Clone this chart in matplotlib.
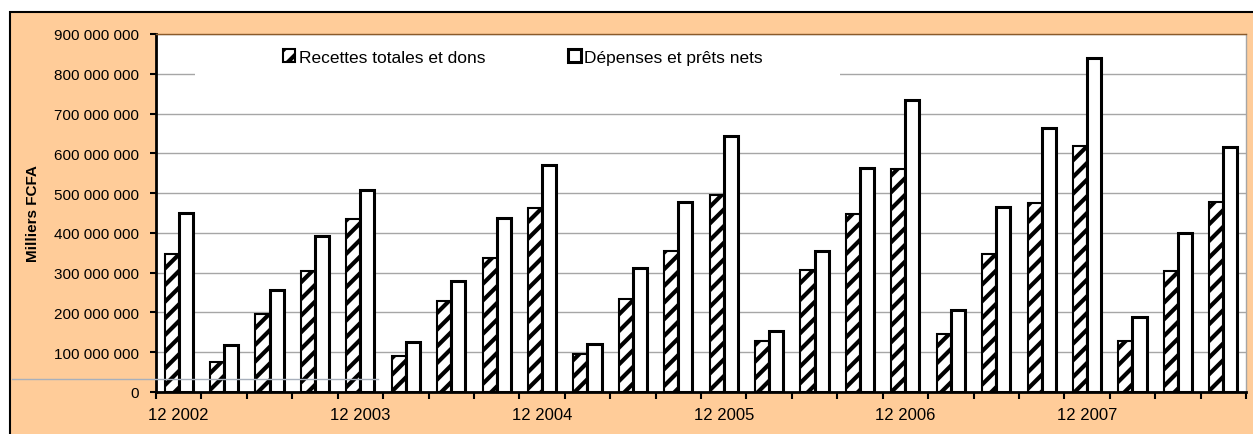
import numpy as np
import matplotlib
matplotlib.use("Agg")
import matplotlib.pyplot as plt
from matplotlib.patches import Rectangle, Patch
from matplotlib.lines import Line2D

# values in millions (Milliers FCFA / 1e6)
periods = ["12 2002", "03 2003", "06 2003", "09 2003",
           "12 2003", "03 2004", "06 2004", "09 2004",
           "12 2004", "03 2005", "06 2005", "09 2005",
           "12 2005", "03 2006", "06 2006", "09 2006",
           "12 2006", "03 2007", "06 2007", "09 2007",
           "12 2007", "03 2008", "06 2008", "09 2008"]
recettes = [347, 76, 196, 303, 435, 90, 228, 338, 462, 95, 235, 354,
            496, 128, 306, 447, 561, 147, 346, 475, 618, 127, 305, 478]
depenses = [450, 118, 257, 391, 508, 126, 278, 437, 571, 121, 311, 478,
            644, 153, 355, 563, 734, 207, 464, 664, 839, 189, 400, 615]
yticks = [0, 100, 200, 300, 400, 500, 600, 700, 800, 900]

plt.rcParams['font.family'] = ['Liberation Sans', 'DejaVu Sans']
plt.rcParams['hatch.linewidth'] = 3.0
plt.rcParams['hatch.color'] = 'black'

W, H = 1253, 435
fig = plt.figure(figsize=(W/100, H/100), dpi=100)
fig.patch.set_facecolor('white')

# peach frame of the chart
fig.patches.append(Rectangle((10/W, -0.05), 1.1, (H-13)/H + 0.05, transform=fig.transFigure,
                             facecolor='#FFCC99', edgecolor='black', lw=1.5, zorder=-5))

ax = fig.add_axes([156/W, (H-393)/H, 1090/W, 358/H])
ax.set_zorder(2)
ax.set_facecolor('white')

x = np.arange(len(periods))
bw = 0.31
ax.bar(x - 0.155, np.array(recettes)*1e6, bw, facecolor='white', edgecolor='black',
       hatch='//', lw=1.5, zorder=3)
ax.bar(x + 0.155, np.array(depenses)*1e6, bw, facecolor='white', edgecolor='black',
       lw=2.2, zorder=4)

ax.set_xlim(-0.5, len(periods) - 0.5)
ax.set_ylim(0, 900e6)
ax.set_yticks([v*1e6 for v in yticks])
ax.set_yticklabels(["{:,}".format(v*1000000).replace(",", " ") for v in yticks], fontsize=11)
ax.yaxis.grid(True, color='#a6a6a6', lw=1, zorder=1)
ax.set_axisbelow(True)

ax.set_xticks(np.arange(-0.5, len(periods), 1))
ax.set_xticklabels([])
lab_pos = [i for i, p in enumerate(periods) if p.startswith("12")]
ax.set_xticks(lab_pos, [periods[i] for i in lab_pos], minor=True, fontsize=12)
ax.tick_params(axis='x', which='major', direction='out', length=5, width=1.5)
ax.tick_params(axis='x', which='minor', length=0, pad=11)
ax.tick_params(axis='y', direction='out', length=4, width=1.5, pad=8)

ax.spines['left'].set_linewidth(2)
ax.spines['bottom'].set_linewidth(2)
ax.spines['top'].set_color('#8B5A2B')
ax.spines['top'].set_linewidth(1)
ax.spines['right'].set_color('#a6a6a6')
ax.spines['right'].set_linewidth(1)

ax.set_ylabel("Milliers FCFA", fontsize=11, fontweight='bold')
ax.yaxis.set_label_coords(-0.106, 0.5)

# white legend area hiding the grid
ax.add_patch(Rectangle((39/1090, (393-82)/358), (840-195)/1090, 42/358, transform=ax.transAxes,
                       facecolor='white', edgecolor='none', zorder=2))
handles = [Patch(facecolor='white', edgecolor='black', hatch='//', lw=1.5),
           Patch(facecolor='white', edgecolor='black', lw=2.2)]
ax.legend(handles, ["Recettes totales et dons", "Dépenses et prêts nets"], ncol=2,
          loc='center left', bbox_to_anchor=((283-156)/1090, (393-58)/358), frameon=False,
          fontsize=12.5, handlelength=0.7, handleheight=0.7, handletextpad=0.2,
          columnspacing=4.8, borderaxespad=0, borderpad=0)

# stray grey line in the original
fig.add_artist(Line2D([12/W, 378/W], [(H-380)/H, (H-380)/H], color='#a8b0bc', lw=1, zorder=10))

fig.savefig("out.png", dpi=100)
